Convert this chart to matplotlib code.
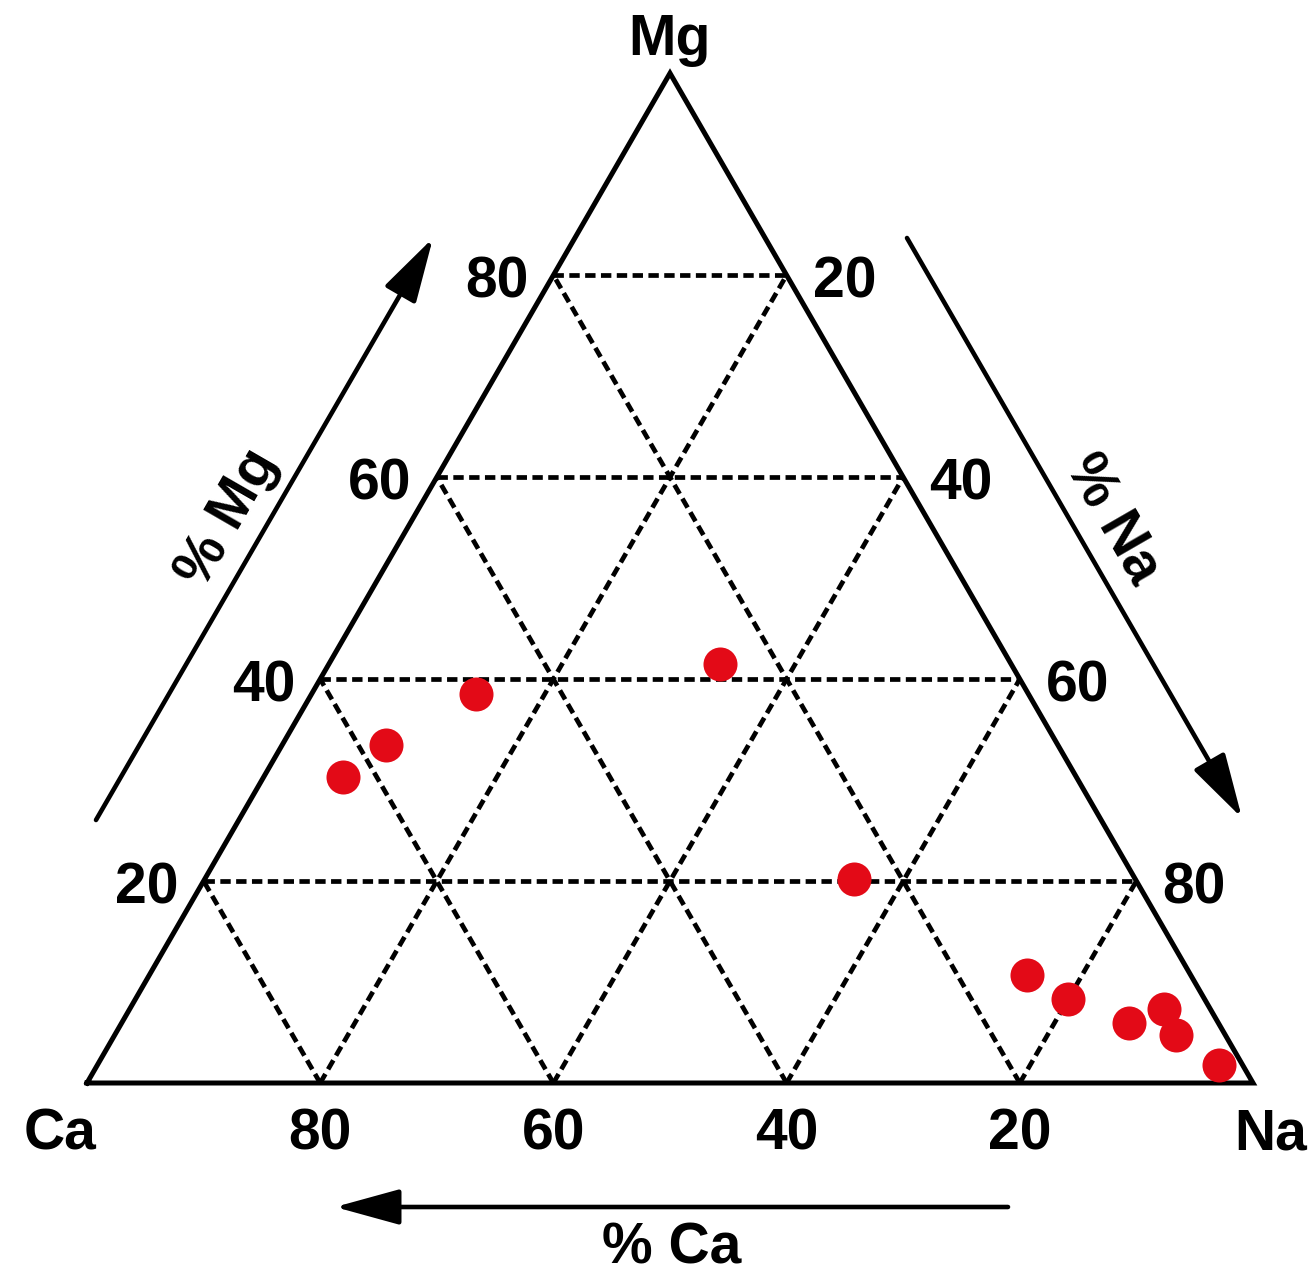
"""Ternary diagram of Ca / Mg / Na proportions (percent)."""

import numpy as np
import matplotlib
matplotlib.use("Agg")
import matplotlib.pyplot as plt
from matplotlib.patches import ArrowStyle

plt.rcParams['font.family'] = ['Liberation Sans', 'DejaVu Sans']

# sample compositions, percent of (Ca, Mg, Na)
ca_pct = [47.4, 25.0, 57.6, 62.9, 24.1, 14.0, 11.7, 7.7, 4.0, 4.2, 2.0]
mg_pct = [38.5, 41.5, 33.5, 30.3, 20.2, 10.7, 8.3, 5.9, 7.3, 4.8, 1.8]
na_pct = [14.1, 33.5, 8.9, 6.8, 55.7, 75.3, 80.0, 86.4, 88.7, 91.0, 96.2]

grid_levels = [20, 40, 60, 80]
vertex_labels = ['Ca', 'Na', 'Mg']
axis_titles = ['% Ca', '% Mg', '% Na']

SQ = np.sqrt(3) / 2
# pixel frame of the picture: Ca corner at (87, 1083), side length 1166 px
X0, Y0, SCALE = 87, 1083, 1166
W, H = 1316, 1281
FS = 41
RED = '#e30a17'
GRID_KW = dict(color='black', lw=3.4, dashes=(2.2, 1.15), zorder=1)


def tern(ca, mg, na):
    """(Ca, Mg, Na) -> cartesian, Ca=(0,0), Na=(1,0), Mg=(0.5, sqrt3/2)."""
    ca, mg, na = np.asarray(ca, float), np.asarray(mg, float), np.asarray(na, float)
    tot = ca + mg + na
    return (na + mg / 2) / tot, mg * SQ / tot


def px(xp, yp):
    """picture pixel -> data coordinates"""
    return (xp - X0) / SCALE, (Y0 - yp) / SCALE


def off(x, y, dxp, dyp):
    # shift a data point by a pixel offset (y down positive)
    return x + dxp / SCALE, y - dyp / SCALE


fig = plt.figure(figsize=(W / 100, H / 100), dpi=100)
ax = fig.add_axes([0, 0, 1, 1])
ax.set_xlim(-X0 / SCALE, (W - X0) / SCALE)
ax.set_ylim((Y0 - H) / SCALE, Y0 / SCALE)
ax.set_aspect('equal')
ax.axis('off')

# dashed grid
for k in grid_levels:
    f = k / 100
    # constant Mg
    xs, ys = tern([1 - f, 0], [f, f], [0, 1 - f])
    ax.plot(xs, ys, **GRID_KW)
    # constant Na
    xs, ys = tern([1 - f, 0], [0, 1 - f], [f, f])
    ax.plot(xs, ys, **GRID_KW)
    # constant Ca
    xs, ys = tern([f, f], [0, 1 - f], [1 - f, 0])
    ax.plot(xs, ys, **GRID_KW)

# outline
xs, ys = tern([100, 0, 0, 100], [0, 0, 100, 0], [0, 100, 0, 0])
ax.plot(xs, ys, color='black', lw=3.6, solid_joinstyle='miter', zorder=2)

# samples
x, y = tern(ca_pct, mg_pct, na_pct)
ax.plot(x, y, 'o', color=RED, markersize=24.5, markeredgewidth=0, zorder=3)

tkw = dict(fontsize=FS, fontweight='bold', va='baseline')

# bottom ticks (% Ca)
for k in grid_levels:
    bx, by = tern(k, 0, 100 - k)
    ax.text(*off(bx, by, 0, 67), str(k), ha='center', **tkw)
# left ticks (% Mg)
for k in grid_levels:
    lx, ly = tern(100 - k, k, 0)
    ax.text(*off(lx, ly, -25, 22), str(k), ha='right', **tkw)
# right ticks (% Na)
for k in grid_levels:
    rx, ry = tern(0, 100 - k, k)
    ax.text(*off(rx, ry, 26, 22), str(k), ha='left', **tkw)

# corner labels
ax.text(*px(60, 1150), vertex_labels[0], ha='center', **tkw)
ax.text(*px(1271, 1150), vertex_labels[1], ha='center', **tkw)
ax.text(*px(669, 55), vertex_labels[2], ha='center', **tkw)

# direction arrows
astyle = ArrowStyle('-|>', head_length=2.0, head_width=0.55)
akw = dict(arrowstyle=astyle, mutation_scale=20, lw=3.3, color='black',
           shrinkA=0, shrinkB=0)
ax.annotate('', xy=px(335, 1207), xytext=px(1008, 1207), arrowprops=akw)
ax.annotate('', xy=px(433, 238), xytext=px(96, 820), arrowprops=akw)
ax.annotate('', xy=px(1242, 818), xytext=px(907, 238), arrowprops=akw)

ckw = dict(fontsize=FS, fontweight='bold', ha='center', va='center',
           rotation_mode='anchor')
ax.text(*px(672, 1248), axis_titles[0], **ckw)
ax.text(*px(228, 518), axis_titles[1], rotation=60, **ckw)
ax.text(*px(1112, 520), axis_titles[2], rotation=-60, **ckw)

fig.savefig('out.png', dpi=100, facecolor='white')
